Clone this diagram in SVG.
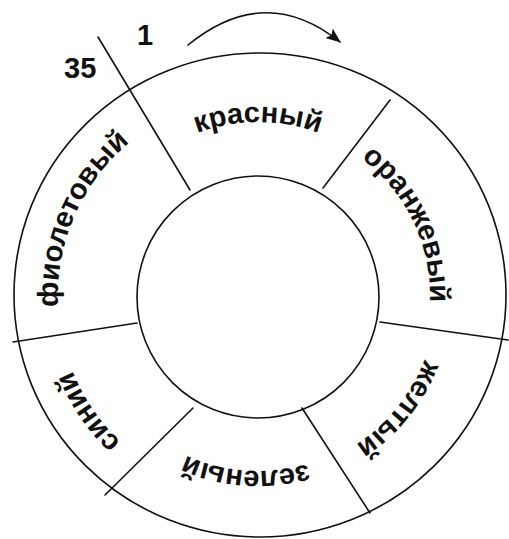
<svg xmlns="http://www.w3.org/2000/svg" width="509" height="539" viewBox="0 0 509 539">
<style>
.ln{fill:none;stroke:#111;stroke-width:1.6;stroke-linecap:round}
.lbl{font-family:"Liberation Sans",Arial,sans-serif;font-size:29px;font-weight:bold;fill:#111}
.num{font-family:"Liberation Sans",Arial,sans-serif;font-size:29px;font-weight:bold;fill:#111}
</style>
<defs>
<marker id="ah" markerUnits="userSpaceOnUse" markerWidth="18" markerHeight="14" refX="14" refY="6" orient="auto">
<path d="M0,0 L15,6 L0,12 L3,6 z" fill="#111"/>
</marker>
<path id="p-kr" d="M86.7,265.6 A174,174 0 0 1 429.3,265.6"/>
<path id="p-or" d="M212.0,130.2 A172,172 0 0 1 357.8,436.0"/>
<path id="p-zh" d="M391.9,178.7 A178,178 0 0 1 172.1,451.9"/>
<path id="p-ze" d="M427.8,338.3 A175,175 0 0 1 84.0,314.3"/>
<path id="p-si" d="M340.3,478.3 A200,200 0 0 1 118.3,152.9"/>
<path id="p-fi" d="M147.6,462.8 A200,200 0 0 1 304.7,101.5"/>
</defs>
<rect width="509" height="539" fill="#fff"/>
<g id="ring">
<ellipse class="ln" cx="260" cy="295" rx="246" ry="242"/>
<circle class="ln" cx="258" cy="297" r="121"/>
</g>
<g id="connectors">
<line class="ln" x1="98" y1="37" x2="190" y2="190"/>
<line class="ln" x1="390" y1="100" x2="323" y2="188"/>
<line class="ln" x1="380" y1="322" x2="508" y2="340"/>
<line class="ln" x1="302" y1="408" x2="370" y2="513"/>
<line class="ln" x1="193" y1="408" x2="105" y2="495"/>
<line class="ln" x1="137" y1="323" x2="13" y2="342"/>
<path id="direction" class="ln" d="M188,45 Q265,-18 340,42" marker-end="url(#ah)"/>
</g>
<g id="marks">
<text class="num" x="137" y="45">1</text>
<text class="num" x="64" y="78">35</text>
</g>
<g id="sector-krasny"><text class="lbl" text-anchor="middle"><textPath href="#p-kr" startOffset="50%">красный</textPath></text></g>
<g id="sector-oranzhevy"><text class="lbl" text-anchor="middle"><textPath href="#p-or" startOffset="50%">оранжевый</textPath></text></g>
<g id="sector-zhelty"><text class="lbl" text-anchor="middle"><textPath href="#p-zh" startOffset="50%">желтый</textPath></text></g>
<g id="sector-zeleny"><text class="lbl" text-anchor="middle"><textPath href="#p-ze" startOffset="50%">зеленый</textPath></text></g>
<g id="sector-siniy"><text class="lbl" text-anchor="middle"><textPath href="#p-si" startOffset="50%">синий</textPath></text></g>
<g id="sector-fioletovy"><text class="lbl" text-anchor="middle"><textPath href="#p-fi" startOffset="50%">фиолетовый</textPath></text></g>
</svg>
